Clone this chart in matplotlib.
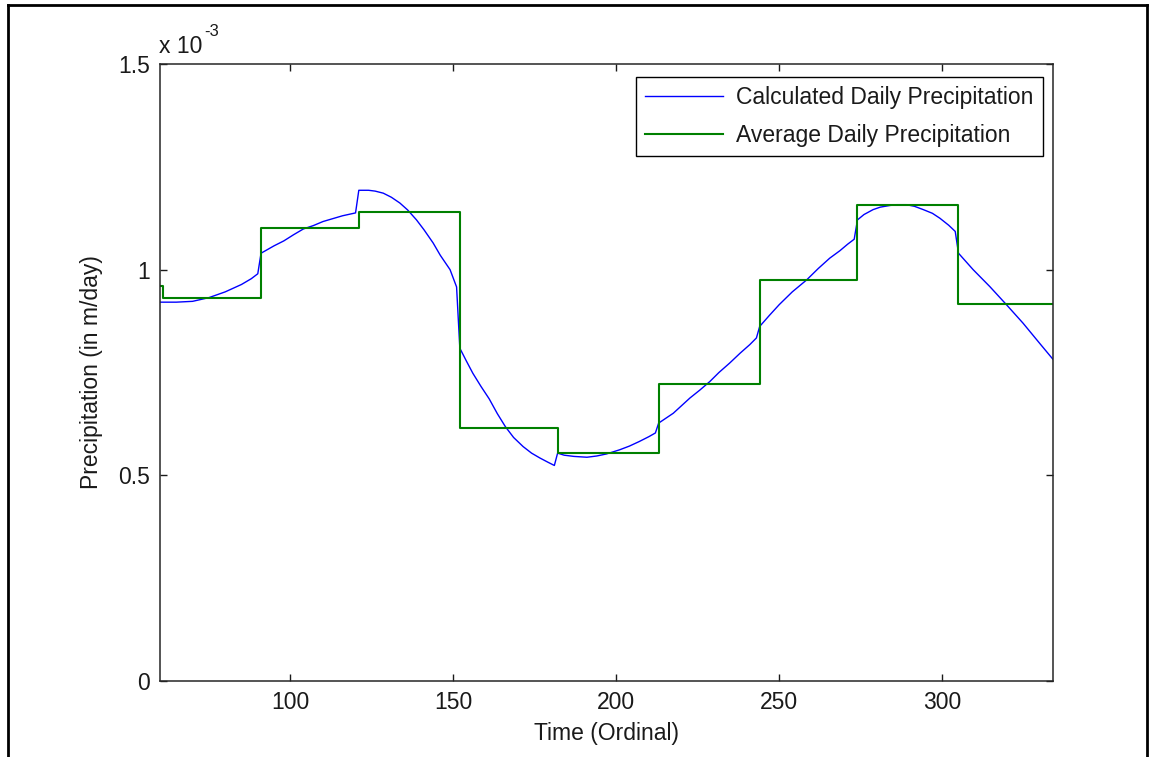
import matplotlib
matplotlib.use("Agg")
import matplotlib.pyplot as plt
from matplotlib.lines import Line2D
from matplotlib.ticker import FuncFormatter

plt.rcParams["font.family"] = ["Liberation Sans", "DejaVu Sans"]
plt.rcParams["font.size"] = 16.5

# ── Data (precipitation in m/day, day-of-year ordinals) ──────────────────────

# calculated daily precipitation, one smooth piece per month
calc_days = [60, 65, 70, 75, 80, 85, 88, 90,
             91, 95, 98, 101, 104, 107, 110, 113, 116, 120,
             121, 124, 126, 128.5, 131, 133.6, 136, 138.7, 141, 143.8, 146, 149, 151,
             152, 154, 156, 158.5, 161, 163.5, 166, 168.5, 171.4, 174, 176.6, 179, 181,
             182, 184, 187, 191, 194, 197, 201, 204, 207, 210, 212,
             213, 217.5, 222.6, 225.6, 228.7, 231.5, 234.8, 238, 241, 243,
             244, 247, 250, 254, 258.4, 262, 265.5, 268.6, 271, 273,
             274, 276, 278.8, 281, 283.9, 286, 289, 291.5, 294.2, 297, 299.3, 302, 304,
             305, 309.5, 314.6, 319.7, 324.8, 329.9, 334]
calc_vals = [0.921, 0.921, 0.923, 0.932, 0.946, 0.964, 0.978, 0.990,
             1.040, 1.058, 1.070, 1.085, 1.099, 1.107, 1.117, 1.124, 1.131, 1.138,
             1.193, 1.193, 1.191, 1.186, 1.176, 1.162, 1.145, 1.121, 1.097, 1.065, 1.035, 1.000, 0.958,
             0.809, 0.778, 0.748, 0.716, 0.686, 0.650, 0.618, 0.592, 0.570, 0.554, 0.542, 0.532, 0.524,
             0.554, 0.549, 0.546, 0.544, 0.547, 0.552, 0.562, 0.571, 0.582, 0.594, 0.603,
             0.627, 0.651, 0.688, 0.707, 0.728, 0.750, 0.773, 0.797, 0.818, 0.834,
             0.862, 0.889, 0.915, 0.946, 0.975, 1.003, 1.028, 1.046, 1.062, 1.074,
             1.121, 1.134, 1.146, 1.152, 1.156, 1.158, 1.158, 1.154, 1.146, 1.137, 1.125, 1.108, 1.093,
             1.040, 1.000, 0.959, 0.915, 0.870, 0.821, 0.782]

# monthly average, held constant from each month start
avg_days = [60, 61, 91, 121, 152, 182, 213, 244, 274, 305, 334]
avg_vals = [0.961, 0.931, 1.101, 1.140, 0.615, 0.554, 0.721, 0.974, 1.158, 0.917, 0.917]

calc_vals = [v * 1e-3 for v in calc_vals]
avg_vals = [v * 1e-3 for v in avg_vals]

xticks = [100, 150, 200, 250, 300]
yticks = [0, 0.5e-3, 1.0e-3, 1.5e-3]

# ── Figure ───────────────────────────────────────────────────────────────────

W, H = 1151, 757
fig = plt.figure(figsize=(W / 100, H / 100), dpi=100)
ax = fig.add_axes([160 / W, 1 - 681 / H, 893 / W, 617 / H])

ax.plot(calc_days, calc_vals, color="#0000ff", lw=1.0,
        label="Calculated Daily Precipitation")
ax.plot(avg_days, avg_vals, color="#008000", lw=1.5, drawstyle="steps-post",
        label="Average Daily Precipitation")

ax.set_xlim(60, 334)
ax.set_ylim(0, 1.5e-3)
ax.set_xticks(xticks)
ax.set_yticks(yticks)
ax.yaxis.set_major_formatter(FuncFormatter(lambda v, _: f"{v * 1e3:g}"))

ax.tick_params(direction="in", length=5, width=1, top=True, right=True,
               pad=7, colors="#1a1a1a", labelcolor="#1a1a1a")
for sp in ax.spines.values():
    sp.set_linewidth(1.1)
    sp.set_color("#262626")

ax.set_xlabel("Time (Ordinal)", color="#1a1a1a")
ax.set_ylabel("Precipitation (in m/day)", color="#1a1a1a")
ax.xaxis.set_label_coords(0.5, -0.066)
ax.yaxis.set_label_coords(-0.064, 0.5)

# exponent shown MATLAB-style above the y axis
fig.text(159 / W, 1 - 53 / H, "x 10", ha="left", va="baseline", color="#1a1a1a")
fig.text(204 / W, 1 - 36 / H, "-3", ha="left", va="baseline", fontsize=12,
         color="#1a1a1a")

leg = ax.legend(loc="upper right", bbox_to_anchor=(0.9888, 0.9794), borderaxespad=0,
                fancybox=False, framealpha=1, edgecolor="black", handlelength=3.4,
                handletextpad=0.6, borderpad=0.4, labelspacing=0.65)
leg.get_frame().set_linewidth(1.0)
for t in leg.get_texts():
    t.set_color("#1a1a1a")

# outer frame (open at the bottom)
for xs, ys in [([8, 8], [-10, 5]), ([8, 1147], [5, 5]), ([1147, 1147], [5, -10])]:
    fig.add_artist(Line2D([x / W for x in xs], [1 - y / H if y >= 0 else -0.02 for y in ys],
                          transform=fig.transFigure, color="black", lw=2.0))

fig.savefig("out.png", dpi=100)
